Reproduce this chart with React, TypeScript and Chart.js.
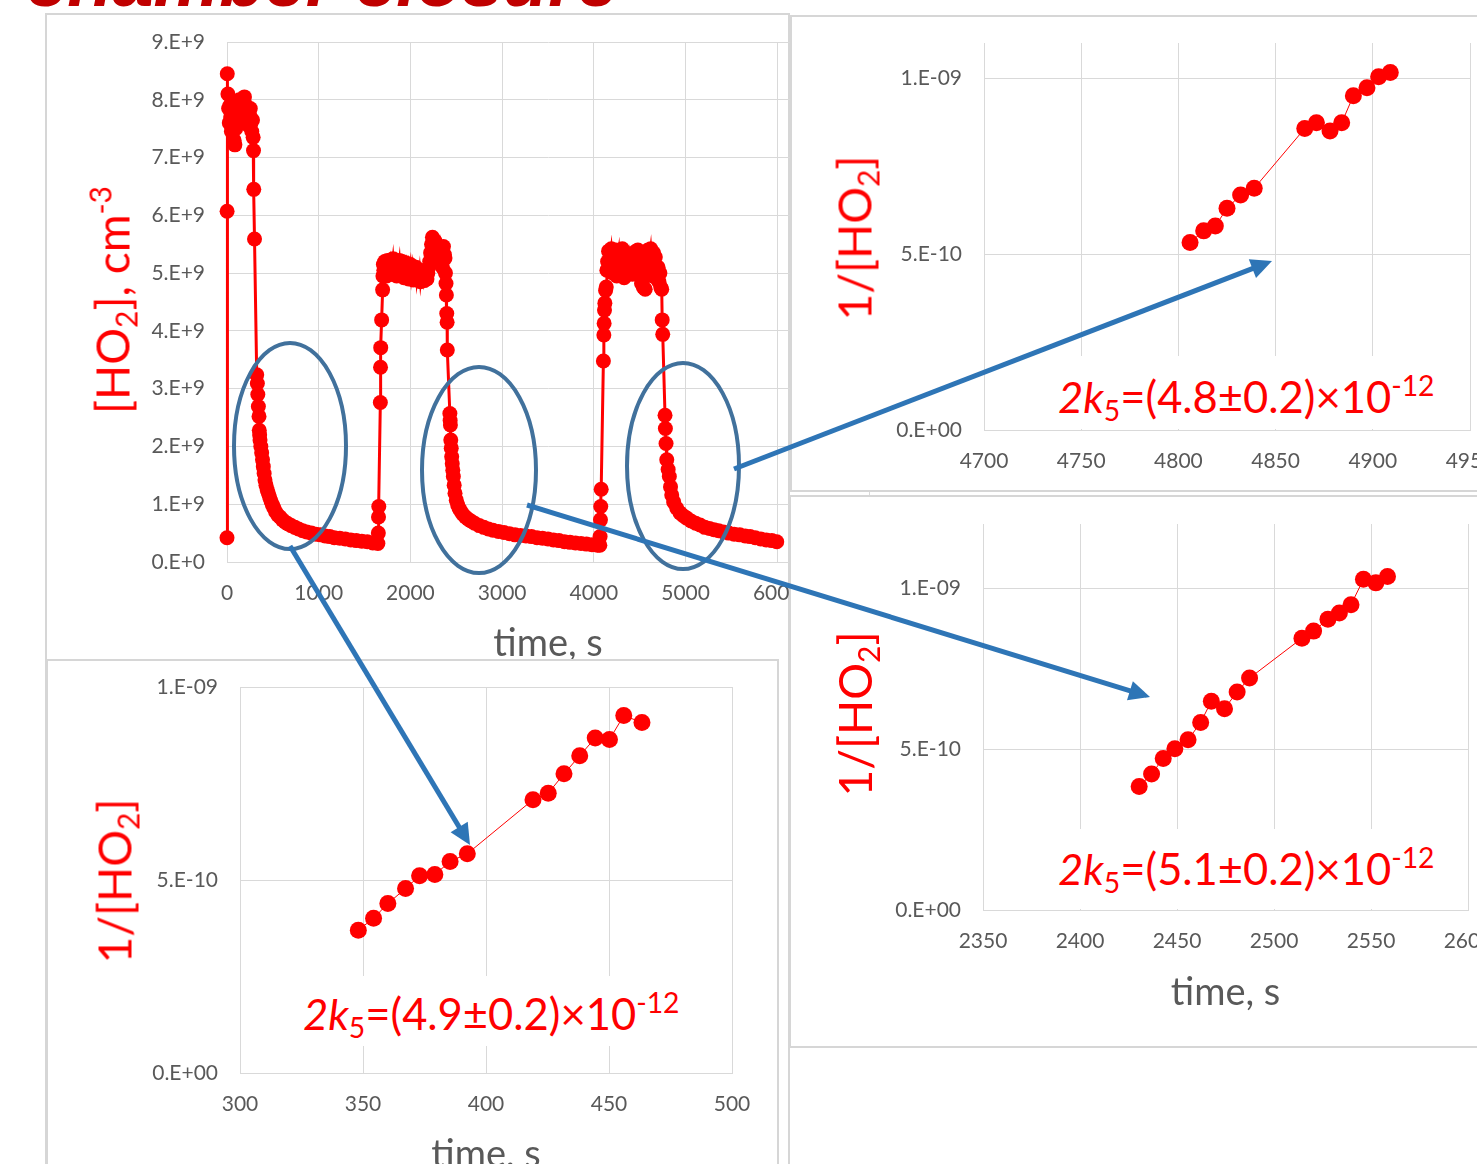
import React, { useEffect, useRef } from "react";
import { Chart, registerables } from "chart.js";

Chart.register(...registerables);

// ---------------- data ----------------
// Main chart: time (s) and [HO2] in units of 1E+9 cm^-3
const mainTime = [
  0, 1, 3, 10, 18, 25, 32, 40, 48, 55, 62, 70, 78, 86, 94, 102, 110, 118, 126, 134, 142, 150, 158, 166, 174, 182,
  190, 198, 206, 214, 222, 230, 238, 246, 254, 262, 270, 278, 285, 289, 292, 300,
  324, 331, 336, 342, 349, 352, 356, 360, 369, 378, 387, 396, 405, 414, 425, 438, 451, 465, 480, 495, 510, 530,
  555, 578, 605, 635, 665, 700, 740, 780, 825, 870, 920, 970, 1020, 1070, 1120, 1170, 1230, 1290, 1350, 1410,
  1470, 1530, 1590, 1645,
  1650, 1652, 1655, 1672, 1674, 1676, 1686, 1697, 1700, 1705,
  1710, 1720, 1730, 1740, 1750, 1760, 1770, 1780, 1790, 1800, 1810, 1820, 1830, 1840, 1850, 1860, 1870, 1880,
  1890, 1900, 1910, 1920, 1930, 1940, 1950, 1960, 1970, 1980, 1990, 2000, 2010, 2020, 2030, 2040, 2050, 2060,
  2070, 2080, 2090, 2100, 2110, 2120, 2130, 2140, 2150, 2160, 2170, 2180, 2190, 2200, 2210, 2220, 2230, 2240,
  2250, 2260, 2270, 2280, 2290, 2300, 2310, 2320, 2330, 2340, 2350, 2360, 2370, 2377, 2382, 2388, 2392, 2396,
  2400, 2402,
  2430, 2433, 2436, 2440, 2445, 2450, 2456, 2462, 2468, 2477, 2486, 2500, 2515, 2530, 2545, 2570, 2600, 2630,
  2660, 2700, 2750, 2800, 2850, 2900, 2960, 3020, 3080, 3140, 3200, 3260, 3320, 3380, 3440, 3500, 3560, 3620,
  3680, 3740, 3800, 3860, 3920, 3980, 4040, 4065,
  4068, 4072, 4075, 4080, 4104, 4109, 4112, 4116, 4120, 4128, 4135, 4142,
  4150, 4160, 4170, 4180, 4190, 4200, 4210, 4220, 4230, 4240, 4250, 4260, 4270, 4280, 4290, 4300, 4310, 4320,
  4330, 4340, 4350, 4360, 4370, 4380, 4390, 4400, 4410, 4420, 4430, 4440, 4450, 4460, 4470, 4480, 4490, 4500,
  4510, 4520, 4530, 4540, 4550, 4560, 4570, 4580, 4590, 4600, 4610, 4620, 4630, 4640, 4650, 4660, 4670, 4680,
  4690, 4700, 4710, 4720, 4730, 4740, 4745, 4751,
  4776, 4780, 4787, 4795, 4810, 4823, 4836, 4849, 4870, 4904, 4940, 4975, 5013, 5060, 5110, 5158, 5210, 5260,
  5310, 5360, 5413, 5470, 5530, 5590, 5650, 5703, 5760, 5820, 5880, 5940, 5994,
];
const mainHO2 = [
  0.42, 6.07, 8.45, 8.1, 7.85, 7.6, 7.9, 7.7, 7.45, 7.6, 7.85, 7.5, 7.3, 7.22, 7.5, 7.75, 7.95, 7.65, 7.9, 8.0, 7.7,
  7.85, 7.95, 7.6, 7.8, 8.02, 8.05, 7.75, 7.9, 7.6, 7.8, 7.7, 7.55, 7.75, 7.85, 7.6, 7.45, 7.65, 7.35, 7.12, 6.45, 5.59,
  3.24, 3.09, 2.9, 2.69, 2.52, 2.28, 2.2, 2.11, 2.0, 1.89, 1.77, 1.65, 1.53, 1.42, 1.33, 1.25, 1.19, 1.12, 1.05, 0.99,
  0.94, 0.87, 0.81, 0.78, 0.73, 0.69, 0.66, 0.63, 0.6, 0.57, 0.54, 0.52, 0.5, 0.48, 0.47, 0.45, 0.44, 0.42, 0.41, 0.4,
  0.38, 0.37, 0.36, 0.35, 0.33, 0.32,
  0.5, 0.78, 0.96, 2.76, 3.37, 3.71, 4.19, 4.71, 4.95, 5.15,
  5.05, 5.2, 5.15, 4.95, 5.22, 5.1, 5.18, 4.98, 5.2, 5.12, 5.25, 5.05, 5.15, 5.2, 4.95, 5.18, 5.1, 5.22,
  5.0, 5.15, 5.2, 5.05, 4.92, 5.12, 5.18, 5.0, 5.1, 4.9, 5.05, 5.15, 4.95, 5.08, 4.88, 5.02, 4.95, 5.1,
  4.88, 5.0, 4.92, 5.05, 4.85, 4.98, 4.9, 5.02, 4.87, 4.95, 5.05, 4.9, 5.0, 5.1, 5.2, 5.35, 5.5, 5.62,
  5.58, 5.45, 5.55, 5.4, 5.3, 5.45, 5.35, 5.2, 5.42, 5.3, 5.1, 5.46, 5.32, 5.26, 5.0, 4.82, 4.62, 4.3,
  4.15, 3.67,
  2.57, 2.45, 2.37, 2.11, 1.97, 1.82, 1.7, 1.59, 1.48, 1.33, 1.19, 1.07, 0.99, 0.93, 0.89, 0.83, 0.78, 0.74,
  0.71, 0.67, 0.63, 0.6, 0.57, 0.55, 0.53, 0.51, 0.49, 0.47, 0.46, 0.45, 0.44, 0.42, 0.41, 0.4, 0.38, 0.37,
  0.35, 0.34, 0.33, 0.32, 0.31, 0.3, 0.29, 0.29,
  0.44, 0.73, 0.96, 1.26, 3.48, 3.93, 4.13, 4.36, 4.48, 4.7, 4.76, 5.05,
  5.2, 5.38, 5.1, 5.3, 5.42, 5.22, 5.0, 5.35, 5.15, 5.4, 4.95, 5.28, 5.38, 5.05, 5.3, 5.2, 5.42, 5.1,
  4.92, 5.25, 5.35, 5.15, 5.3, 5.05, 5.25, 5.12, 5.3, 4.98, 5.2, 5.35, 5.1, 5.38, 5.25, 5.4, 5.2, 5.35,
  5.0, 4.82, 5.15, 4.75, 5.3, 4.72, 5.05, 5.25, 5.4, 5.12, 5.3, 5.42, 5.2, 4.95, 5.35, 5.1, 5.28, 5.05,
  4.9, 5.1, 4.85, 5.0, 4.75, 4.72, 4.19, 3.94,
  2.54, 2.31, 2.05, 1.77, 1.6, 1.48, 1.3, 1.16, 1.04, 0.93, 0.85, 0.8, 0.76, 0.71, 0.67, 0.64, 0.6, 0.58,
  0.56, 0.54, 0.52, 0.5, 0.48, 0.47, 0.45, 0.44, 0.42, 0.4, 0.38, 0.37, 0.35,
];
const mainXTicks = [0, 1000, 2000, 3000, 4000, 5000, 6000, 7000];
const mainYTicks = [0, 1, 2, 3, 4, 5, 6, 7, 8, 9]; // x 1E+9

// Insets: time (s) and 1/[HO2] in units of 1E-10 cm^3
const insetATime = [4806, 4813, 4819, 4825, 4832, 4839, 4865, 4871, 4878, 4884, 4890, 4897, 4903, 4909];
const insetAInv = [5.33, 5.66, 5.8, 6.3, 6.68, 6.87, 8.57, 8.73, 8.5, 8.73, 9.5, 9.73, 10.04, 10.16];
const insetAXTicks = [4700, 4750, 4800, 4850, 4900, 4950];

const insetBTime = [2430.5, 2436.9, 2442.9, 2448.9, 2455.7, 2462.2, 2467.7, 2474.5, 2481, 2487.4, 2514.4, 2520.4, 2527.8, 2533.7, 2539.7, 2546.1, 2552.5, 2558.5];
const insetBInv = [3.84, 4.23, 4.71, 5.01, 5.29, 5.83, 6.49, 6.26, 6.78, 7.21, 8.45, 8.67, 9.04, 9.23, 9.49, 10.28, 10.17, 10.37];
const insetBXTicks = [2350, 2400, 2450, 2500, 2550, 2600];

const insetCTime = [348.1, 354.3, 360.1, 367.3, 373, 379.2, 385.4, 392.4, 419.1, 425.3, 431.7, 438.1, 444.4, 450.2, 456, 463.4];
const insetCInv = [3.7, 4.01, 4.39, 4.78, 5.11, 5.14, 5.48, 5.68, 7.08, 7.25, 7.75, 8.22, 8.68, 8.64, 9.26, 9.08];
const insetCXTicks = [300, 350, 400, 450, 500];

const insetYTicks = [0, 5, 10]; // x 1E-10

const rateValues = ["4.8±0.2", "5.1±0.2", "4.9±0.2"];

// ---------------- styles ----------------
const FONT = "Lato, 'Open Sans', sans-serif";
const RED = "#ff0000";
const GRID = "#d9d9d9";
const TICK = "#595959";
const PANEL = "#d6d6d6";

function sciLabel(v: number, expDigits: number): string {
  if (Math.abs(v) < 1e-30) return "0.E+" + "0".repeat(expDigits);
  const e = Math.floor(Math.log10(Math.abs(v)) + 1e-9);
  const m = Math.round(v / Math.pow(10, e));
  const sign = e < 0 ? "-" : "+";
  return `${m}.E${sign}${String(Math.abs(e)).padStart(expDigits, "0")}`;
}

type Spec = {
  xs: number[];
  ys: number[];
  xMin: number;
  xMax: number;
  xTicks: number[];
  yMax: number;
  yTicks: number[];
  yFmt: (v: number) => string;
  yWidth: number;
  xHeight: number;
  padTop: number;
  padRight: number;
  pointRadius: number;
  lineWidth: number;
  xTitle?: string;
  xTitlePad?: number;
};

function buildConfig(s: Spec): any {
  return {
    type: "scatter",
    data: {
      datasets: [
        {
          data: s.xs.map((x, i) => ({ x, y: s.ys[i] })),
          showLine: true,
          borderColor: RED,
          backgroundColor: RED,
          pointBackgroundColor: RED,
          pointBorderColor: RED,
          borderWidth: s.lineWidth,
          pointRadius: s.pointRadius,
          pointHoverRadius: s.pointRadius,
          pointBorderWidth: 0,
          clip: false,
        },
      ],
    },
    options: {
      responsive: false,
      animation: false,
      devicePixelRatio: 1,
      events: [],
      layout: { padding: { left: 0, right: s.padRight, top: s.padTop, bottom: 0 } },
      plugins: { legend: { display: false }, tooltip: { enabled: false }, title: { display: false } },
      scales: {
        x: {
          type: "linear",
          position: "bottom",
          min: s.xMin,
          max: s.xMax,
          afterBuildTicks: (axis: any) => {
            axis.ticks = s.xTicks.map((v) => ({ value: v }));
          },
          afterFit: (axis: any) => {
            axis.height = s.xHeight;
            axis.paddingLeft = 0;
            axis.paddingRight = 0;
            axis.paddingTop = 0;
            axis.paddingBottom = 0;
          },
          grid: { color: GRID, lineWidth: 1, drawTicks: false },
          border: { color: GRID, width: 1 },
          ticks: {
            color: TICK,
            font: { family: FONT, size: 21 },
            padding: 19,
            maxRotation: 0,
            minRotation: 0,
            autoSkip: false,
            callback: (v: any) => String(v),
          },
          title: s.xTitle
            ? {
                display: true,
                text: s.xTitle,
                color: TICK,
                font: { family: FONT, size: 38 },
                padding: { top: 0, bottom: s.xTitlePad ?? 0 },
              }
            : { display: false },
        },
        y: {
          type: "linear",
          position: "left",
          min: 0,
          max: s.yMax,
          afterBuildTicks: (axis: any) => {
            axis.ticks = s.yTicks.map((v) => ({ value: v }));
          },
          afterFit: (axis: any) => {
            axis.width = s.yWidth;
            axis.paddingLeft = 0;
            axis.paddingRight = 0;
            axis.paddingTop = 0;
            axis.paddingBottom = 0;
          },
          grid: { color: GRID, lineWidth: 1, drawTicks: false },
          border: { color: GRID, width: 1 },
          ticks: {
            color: TICK,
            font: { family: FONT, size: 21 },
            padding: 22,
            autoSkip: false,
            callback: (v: any) => s.yFmt(Number(v)),
          },
        },
      },
    },
  };
}

function ChartCanvas(props: { left: number; top: number; width: number; height: number; spec: Spec }) {
  const ref = useRef<HTMLCanvasElement | null>(null);
  useEffect(() => {
    if (!ref.current) return;
    const chart = new Chart(ref.current, buildConfig(props.spec));
    return () => chart.destroy();
  }, []);
  return (
    <canvas
      ref={ref}
      width={props.width}
      height={props.height}
      style={{ position: "absolute", left: props.left, top: props.top, width: props.width, height: props.height }}
    />
  );
}

function Panel(props: { left: number; top: number; width: number; height: number }) {
  return (
    <div
      style={{
        position: "absolute",
        left: props.left,
        top: props.top,
        width: props.width,
        height: props.height,
        border: `2px solid ${PANEL}`,
        background: "#ffffff",
        boxSizing: "border-box",
      }}
    />
  );
}

const subStyle: React.CSSProperties = { fontSize: "0.65em", position: "relative", top: "0.28em" };
const supStyle: React.CSSProperties = { fontSize: "0.65em", position: "relative", top: "-0.6em" };

function YTitle(props: { cx: number; cy: number; children: React.ReactNode }) {
  return (
    <div
      style={{
        position: "absolute",
        left: props.cx,
        top: props.cy,
        transform: "translate(-50%, -50%) rotate(-90deg)",
        color: RED,
        fontFamily: FONT,
        fontSize: 46,
        lineHeight: "56px",
        whiteSpace: "nowrap",
      }}
    >
      {props.children}
    </div>
  );
}

const RATE_FS = 43.5;

function RateBox(props: { left: number; top: number; width: number; height: number; textLeft: number; baseline: number; value: string }) {
  return (
    <div
      style={{
        position: "absolute",
        left: props.left,
        top: props.top,
        width: props.width,
        height: props.height,
        background: "#ffffff",
      }}
    >
      <div
        style={{
          position: "absolute",
          left: props.textLeft - props.left,
          top: props.baseline - props.top - 0.887 * RATE_FS,
          fontFamily: FONT,
          fontSize: RATE_FS,
          lineHeight: `${RATE_FS}px`,
          color: RED,
          whiteSpace: "nowrap",
        }}
      >
        <i>2k</i>
        <span style={subStyle}>5</span>=({props.value})×10<span style={supStyle}>-12</span>
      </div>
    </div>
  );
}

const ELLIPSES = [
  { cx: 290, cy: 446, rx: 56, ry: 103 },
  { cx: 479, cy: 470, rx: 57, ry: 103 },
  { cx: 683, cy: 466, rx: 56, ry: 103 },
];
const ARROWS = [
  { x1: 734, y1: 469, x2: 1272, y2: 261 },
  { x1: 527, y1: 505, x2: 1150, y2: 697 },
  { x1: 290, y1: 546, x2: 470, y2: 845 },
];

function Arrow(a: { x1: number; y1: number; x2: number; y2: number }) {
  const dx = a.x2 - a.x1;
  const dy = a.y2 - a.y1;
  const len = Math.hypot(dx, dy);
  const ux = dx / len;
  const uy = dy / len;
  const L = 21;
  const W = 10;
  const bx = a.x2 - ux * L;
  const by = a.y2 - uy * L;
  const pts = `${a.x2},${a.y2} ${bx - uy * W},${by + ux * W} ${bx + uy * W},${by - ux * W}`;
  return (
    <g>
      <line x1={a.x1} y1={a.y1} x2={bx + ux * 2} y2={by + uy * 2} stroke="#2e75b6" strokeWidth={5} />
      <polygon points={pts} fill="#2e75b6" />
    </g>
  );
}

export default function App() {
  const mainSpec: Spec = {
    xs: mainTime,
    ys: mainHO2,
    xMin: 0,
    xMax: 7000,
    xTicks: mainXTicks,
    yMax: 9,
    yTicks: mainYTicks,
    yFmt: (v) => sciLabel(v * 1e9, 1),
    yWidth: 182,
    xHeight: 111,
    padTop: 29,
    padRight: 20,
    pointRadius: 7.5,
    lineWidth: 3,
    xTitle: "time, s",
    xTitlePad: 6,
  };
  const specA: Spec = {
    xs: insetATime,
    ys: insetAInv,
    xMin: 4700,
    xMax: 4950,
    xTicks: insetAXTicks,
    yMax: 11,
    yTicks: insetYTicks,
    yFmt: (v) => sciLabel(v * 1e-10, 2),
    yWidth: 194,
    xHeight: 62,
    padTop: 28,
    padRight: 20,
    pointRadius: 8.5,
    lineWidth: 1,
  };
  const specB: Spec = {
    xs: insetBTime,
    ys: insetBInv,
    xMin: 2350,
    xMax: 2600,
    xTicks: insetBXTicks,
    yMax: 12,
    yTicks: insetYTicks,
    yFmt: (v) => sciLabel(v * 1e-10, 2),
    yWidth: 194,
    xHeight: 138,
    padTop: 29,
    padRight: 21,
    pointRadius: 8.5,
    lineWidth: 1,
    xTitle: "time, s",
    xTitlePad: 32,
  };
  const specC: Spec = {
    xs: insetCTime,
    ys: insetCInv,
    xMin: 300,
    xMax: 500,
    xTicks: insetCXTicks,
    yMax: 10,
    yTicks: insetYTicks,
    yFmt: (v) => sciLabel(v * 1e-10, 2),
    yWidth: 194,
    xHeight: 116,
    padTop: 28,
    padRight: 47,
    pointRadius: 8.5,
    lineWidth: 1,
    xTitle: "time, s",
    xTitlePad: 11,
  };

  return (
    <div
      style={{
        position: "fixed",
        left: 0,
        top: 0,
        width: 1477,
        height: 1164,
        overflow: "hidden",
        background: "#ffffff",
        fontFamily: FONT,
      }}
    >
      <div
        style={{
          position: "absolute",
          left: 26,
          top: -56,
          fontFamily: "'Liberation Sans', Arial, sans-serif",
          fontWeight: "bold",
          fontStyle: "italic",
          fontSize: 74,
          lineHeight: "74px",
          color: "#c00000",
          whiteSpace: "nowrap",
        }}
      >
        chamber closure
      </div>

      {/* main panel */}
      <Panel left={45} top={13} width={745} height={1200} />
      <ChartCanvas left={45} top={13} width={844} height={660} spec={mainSpec} />
      <YTitle cx={115} cy={300}>
        [HO<span style={subStyle}>2</span>], cm<span style={supStyle}>-3</span>
      </YTitle>

      {/* bottom-left inset */}
      <Panel left={46} top={659} width={733} height={540} />
      <ChartCanvas left={46} top={659} width={733} height={530} spec={specC} />
      <RateBox left={290} top={976} width={420} height={70} textLeft={303} baseline={1031} value={rateValues[2]} />
      <YTitle cx={117} cy={881}>
        1/[HO<span style={subStyle}>2</span>]
      </YTitle>

      {/* top-right inset */}
      <Panel left={790} top={15} width={720} height={477} />
      <ChartCanvas left={790} top={15} width={700} height={477} spec={specA} />
      <RateBox left={1045} top={356} width={420} height={73} textLeft={1058} baseline={414} value={rateValues[0]} />
      <YTitle cx={857} cy={238}>
        1/[HO<span style={subStyle}>2</span>]
      </YTitle>

      {/* middle-right inset */}
      <Panel left={789} top={495} width={720} height={553} />
      <ChartCanvas left={789} top={495} width={700} height={553} spec={specB} />
      <RateBox left={1045} top={829} width={420} height={80} textLeft={1058} baseline={886} value={rateValues[1]} />
      <YTitle cx={857} cy={714}>
        1/[HO<span style={subStyle}>2</span>]
      </YTitle>

      <svg
        width={1477}
        height={1164}
        style={{ position: "absolute", left: 0, top: 0, pointerEvents: "none" }}
      >
        {ELLIPSES.map((e, i) => (
          <ellipse key={i} cx={e.cx} cy={e.cy} rx={e.rx} ry={e.ry} fill="none" stroke="#41719c" strokeWidth={4} />
        ))}
        {ARROWS.map((a, i) => (
          <Arrow key={i} {...a} />
        ))}
      </svg>
    </div>
  );
}
